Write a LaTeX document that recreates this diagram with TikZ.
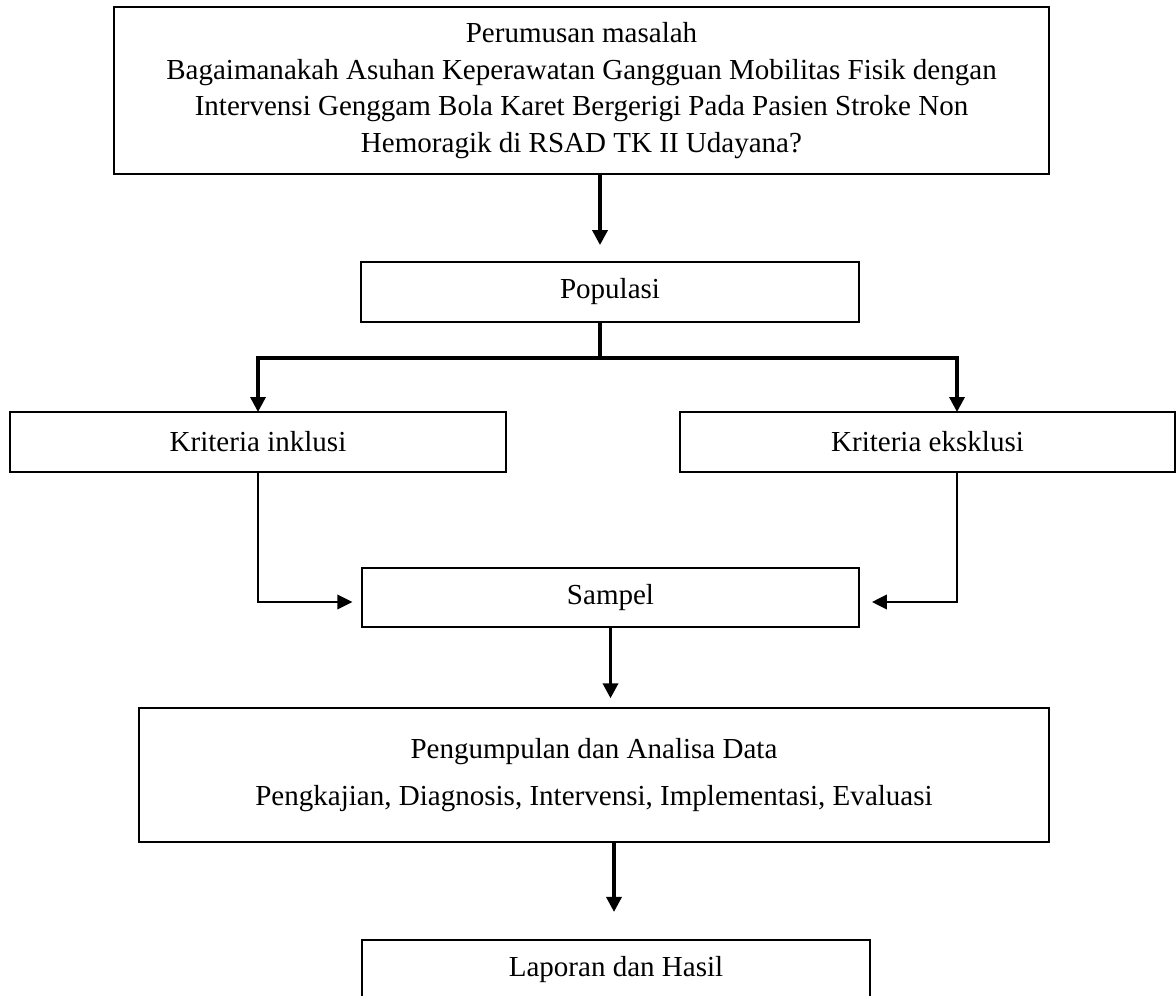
\documentclass[tikz,border=0pt]{standalone}
\usepackage{fontspec}
\setmainfont{Liberation Serif}
\usetikzlibrary{arrows.meta,positioning}

\begin{document}
\begin{tikzpicture}[x=0.01452cm, y=-0.01452cm,
    box/.style={draw, line width=0.8pt, inner sep=0pt, outer sep=0pt,
        align=center, font=\fontsize{12}{15.2}\selectfont},
    flow/.style={line width=1.4pt, -{Triangle[length=6.2pt, width=6.2pt]}},
    bar/.style={line width=1.4pt},
    link/.style={line width=0.8pt, -{Triangle[length=6.2pt, width=6pt]}}]

\useasboundingbox (0,0) rectangle (1176,996);
\clip (0,0) rectangle (1176,996);

% === Boxes ===
\node[box, minimum width=13.576cm, minimum height=2.425cm] (rumus) at (581.5,90.5)
    {Perumusan masalah\\
     Bagaimanakah Asuhan Keperawatan Gangguan Mobilitas Fisik dengan\\
     Intervensi Genggam Bola Karet Bergerigi Pada Pasien Stroke Non\\
     Hemoragik di RSAD TK II Udayana?};
\node[box, minimum width=7.231cm, minimum height=0.871cm] (pop)  at (610,292)   {Populasi};
\node[box, minimum width=7.202cm, minimum height=0.871cm] (inkl) at (258,442)   {Kriteria inklusi};
\node[box, minimum width=7.187cm, minimum height=0.871cm] (eksk) at (927.5,442) {Kriteria eksklusi};
\node[box, minimum width=7.216cm, minimum height=0.857cm] (samp) at (610.5,597.5) {Sampel};
\node[box, minimum width=13.213cm, minimum height=1.946cm] (olah) at (594,775)
    {Pengumpulan dan Analisa Data\\[4.2pt]
     Pengkajian, Diagnosis, Intervensi, Implementasi, Evaluasi};
\node[box, minimum width=7.376cm, minimum height=0.871cm] (lapor) at (616,970) {Laporan dan Hasil};

% === Junction points ===
\coordinate (cabang) at (600,358);
\coordinate (kiri)   at (258,602);
\coordinate (kanan)  at (957,602);

% === Edges ===
\draw[flow, shorten >=7pt] (rumus.south -| cabang) -- (pop.north -| cabang);
\draw[bar] (pop.south -| cabang) -- (cabang);
\draw[flow] (cabang) -| (inkl.north);
\draw[flow] (cabang) -| (eksk.north -| kanan);

% criteria to sample
\draw[link, shorten >=4pt] (inkl.south) -- (kiri) -- (kiri -| samp.west);
\draw[link, shorten >=5.4pt] (eksk.south -| kanan) -- (kanan) -- (kanan -| samp.east);

\draw[flow, shorten >=4pt] (samp.south) -- (olah.north -| samp.south);
\draw[flow, shorten >=11.6pt] (olah.south -| 614,0) -- (lapor.north -| 614,0);

\end{tikzpicture}
\end{document}
